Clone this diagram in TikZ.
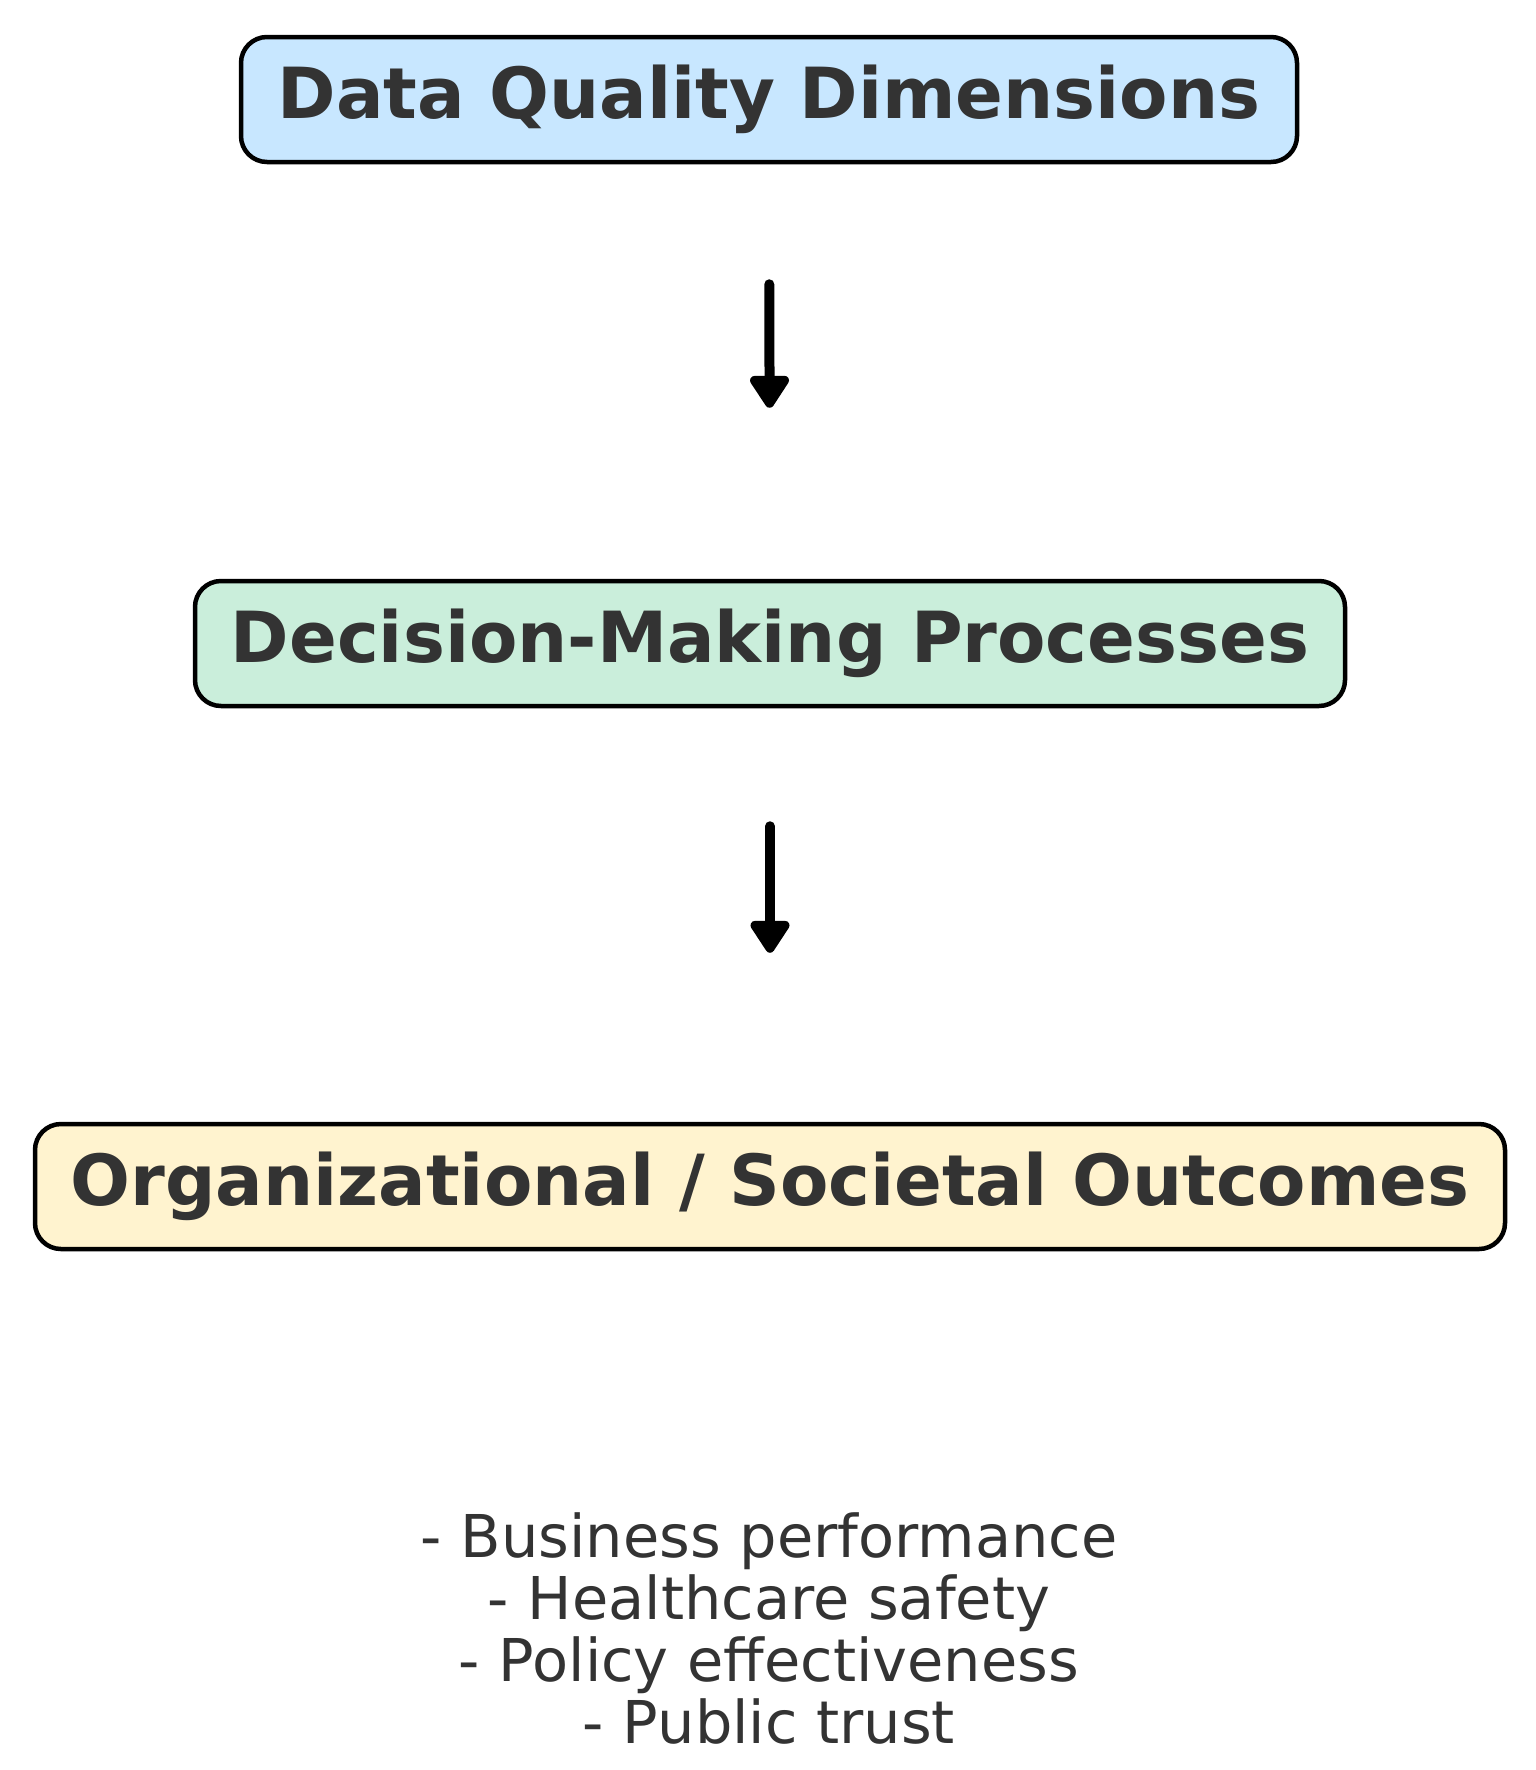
\documentclass[tikz,border=0pt]{standalone}
\usepackage{fontspec}
\setmainfont{DejaVu Sans}
\usetikzlibrary{arrows.meta}
\definecolor{txtc}{HTML}{333333}
\definecolor{fillA}{HTML}{C8E7FF}
\definecolor{fillB}{HTML}{CAEEDB}
\definecolor{fillC}{HTML}{FFF3CF}
\tikzset{
  stagebox/.style={draw=black, line width=4.5pt, rounded corners=26pt,
    text=txtc, font=\fontsize{70.5}{82}\selectfont\bfseries,
    minimum height=125pt, inner sep=0pt, anchor=center},
  flowarrow/.style={line width=10pt, line cap=round, -{Triangle[width=44pt,length=36pt,round]}},
}
\begin{document}
\begin{tikzpicture}[x=1pt,y=-1pt]
\useasboundingbox (0,0) rectangle (1535,1770);
\fill[white] (0,0) rectangle (1535,1770);
\node[stagebox, fill=fillA, minimum width=1056pt] (dq) at (769,99.5) {Data Quality Dimensions};
\node[stagebox, fill=fillB, minimum width=1150pt] (dm) at (770,643.5) {Decision-Making Processes};
\node[stagebox, fill=fillC, minimum width=1470pt] (oc) at (770,1186.5) {Organizational / Societal Outcomes};
\draw[flowarrow, shorten <=120pt, shorten >=171pt] (dq.south) -- (dm.north);
\draw[flowarrow, shorten <=118pt, shorten >=169pt] (dm.south) -- (oc.north);
\node[text=txtc, font=\fontsize{59}{62}\selectfont, align=center, anchor=north, inner sep=0pt] (list) at (769,1512)
  {- Business performance\\- Healthcare safety\\- Policy effectiveness\\- Public trust};
\end{tikzpicture}
\end{document}
